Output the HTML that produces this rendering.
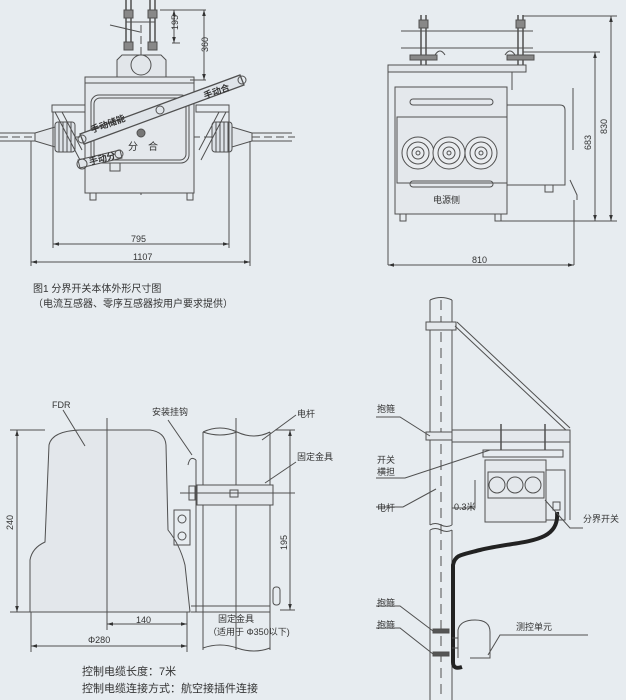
<!DOCTYPE html>
<html><head><meta charset="utf-8"><style>
html,body{margin:0;padding:0;background:#e7ecf0;}
svg{display:block;}
text{font-family:"Liberation Sans","Noto Sans CJK SC",sans-serif;fill:#333;}
</style></head><body>
<svg width="626" height="700" viewBox="0 0 626 700" xmlns="http://www.w3.org/2000/svg">
<rect width="626" height="700" fill="#e7ecf0"/>
<defs>
<marker id="a" viewBox="0 0 10 10" refX="10" refY="5" markerWidth="6" markerHeight="6" orient="auto-start-reverse"><path d="M0,2 L10,5 L0,8 Z" fill="#333"/></marker>
</defs>
<g stroke="#505050" stroke-width="1" fill="none">
<path d="M0,133 H35 M0,141 H35 M252,133 H292 M252,141 H292"/>
<line x1="0" y1="137" x2="295" y2="137" stroke-dasharray="8,4"/>
<line x1="141" y1="25" x2="141" y2="195" stroke-dasharray="8,3"/>
<path d="M35,133 L55,127 V147 L35,141 Z" fill="#e2e6ea"/>
<path d="M252,133 L232,127 V147 L252,141 Z" fill="#e2e6ea"/>
<rect x="55" y="122" width="20" height="30" rx="3" fill="#dde2e7"/>
<rect x="212" y="122" width="20" height="30" rx="3" fill="#dde2e7"/>
<path d="M59,122 V152 M63,122 V152 M67,122 V152 M71,122 V152 M216,122 V152 M220,122 V152 M224,122 V152 M228,122 V152"/>
<path d="M52,105 H85 V112 H52 Z M55,112 L80,160 M62,112 L82,150"/>
<path d="M229,105 H196 V112 H229 Z M226,112 L201,160 M219,112 L199,150"/>
<path d="M126,0 V50 M131,0 V50 M150,0 V50 M155,0 V50" stroke-width="1.5"/>
<rect x="124" y="10" width="9" height="8" fill="#888"/>
<rect x="148" y="10" width="9" height="8" fill="#888"/>
<rect x="124" y="42" width="9" height="8" fill="#888"/>
<rect x="148" y="42" width="9" height="8" fill="#888"/>
<path d="M126,22 H155 M110,25 L140,32"/>
<path d="M117,78 V60 L122,55 H161 L166,60 V78 Z" fill="#e2e6ea"/>
<circle cx="141" cy="65" r="10"/>
<rect x="85" y="77" width="109" height="116" fill="#e4e8ec"/>
<rect x="85" y="77" width="109" height="6"/>
<rect x="91" y="95" width="98" height="68" rx="8"/>
<rect x="94" y="98" width="92" height="62" rx="6"/>
<rect x="110" y="163" width="10" height="8"/>
<rect x="90" y="193" width="6" height="7"/>
<rect x="187" y="193" width="6" height="7"/>
<path d="M80,134 L240,75 L244,85 L84,144 Z" fill="#dfe4e9" stroke-width="1.3"/>
<circle cx="242" cy="80" r="4"/><circle cx="82" cy="139" r="4"/>
<circle cx="160" cy="110" r="4"/>
<path d="M78,160 L120,150 L122,158 L80,168 Z" fill="#dfe4e9"/>
<circle cx="82" cy="164" r="5"/><circle cx="119" cy="154" r="4"/>
<circle cx="141" cy="133" r="4" fill="#777"/>
<path d="M160,10 H206 M172,43 H180 M190,80 H206"/>
<line x1="174" y1="10" x2="174" y2="43" marker-start="url(#a)" marker-end="url(#a)"/>
<line x1="204" y1="10" x2="204" y2="80" marker-start="url(#a)" marker-end="url(#a)"/>
<path d="M53,112 V248 M229,112 V248 M31,141 V266 M250,141 V266"/>
<line x1="53" y1="244" x2="229" y2="244" marker-start="url(#a)" marker-end="url(#a)"/>
<line x1="31" y1="262" x2="250" y2="262" marker-start="url(#a)" marker-end="url(#a)"/>

<path d="M401,31 H533 M401,48 H533"/>
<path d="M421,15 V65 M426,15 V65 M518,15 V65 M523,15 V65" stroke-width="1.5"/>
<rect x="419" y="20" width="9" height="8" fill="#888"/>
<rect x="516" y="20" width="9" height="8" fill="#888"/>
<rect x="410" y="55" width="27" height="5" fill="#888"/>
<rect x="507" y="55" width="27" height="5" fill="#888"/>
<path d="M435,55 q5,-8 10,0 M505,55 q5,-8 10,0"/>
<rect x="388" y="65" width="138" height="7" fill="#e2e6ea"/>
<path d="M388,72 V265 M512,72 V90"/>
<rect x="395" y="87" width="112" height="127" fill="#e4e8ec"/>
<rect x="410" y="99" width="83" height="6" rx="3"/>
<rect x="410" y="181" width="83" height="6" rx="3"/>
<rect x="397" y="117" width="110" height="66"/>
<g fill="#e9ecef">
<circle cx="418" cy="153" r="16"/><circle cx="418" cy="153" r="11"/><circle cx="418" cy="153" r="6"/><circle cx="418" cy="153" r="2"/>
<circle cx="449" cy="153" r="16"/><circle cx="449" cy="153" r="11"/><circle cx="449" cy="153" r="6"/><circle cx="449" cy="153" r="2"/>
<circle cx="481" cy="153" r="16"/><circle cx="481" cy="153" r="11"/><circle cx="481" cy="153" r="6"/><circle cx="481" cy="153" r="2"/>
</g>
<path d="M507,105 H560 Q565,105 565,110 V185 H507"/>
<rect x="545" y="185" width="8" height="7"/>
<rect x="400" y="214" width="6" height="7"/><rect x="495" y="214" width="6" height="7"/>
<path d="M573,88 V150 M570,180 L577,195 V200 M574,200 V265"/>
<path d="M523,16 H617 M523,52 H600 M498,221 H617"/>
<line x1="611" y1="16" x2="611" y2="221" marker-start="url(#a)" marker-end="url(#a)"/>
<line x1="595" y1="52" x2="595" y2="221" marker-start="url(#a)" marker-end="url(#a)"/>
<line x1="388" y1="265" x2="574" y2="265" marker-start="url(#a)" marker-end="url(#a)"/>

<path d="M30,612 V560 Q32,548 45,542 L49,445 Q52,431 80,430 H150 Q165,432 166,445 L168,530 Q180,545 185,565 L190,612 Z" fill="#e3e7eb"/>
<line x1="107" y1="418" x2="107" y2="630"/>
<line x1="236" y1="418" x2="236" y2="650"/>
<path d="M203,432 V650 M270,432 V650"/>
<path d="M203,432 q17,-8 34,0 t33,0 M203,432 q17,6 34,0"/>
<path d="M203,648 q17,-6 34,0 t33,0"/>
<rect x="197" y="485" width="76" height="20" fill="#e4e8ec"/>
<path d="M180,493 H295"/>
<rect x="189" y="486" width="6" height="14"/>
<rect x="230" y="490" width="8" height="7"/>
<path d="M196,460 V612 H208 M191,606 H270 M191,612 H270"/>
<path d="M196,460 q-6,-5 -8,5"/>
<path d="M174,510 H190 V545 H174 Z"/>
<circle cx="182" cy="519" r="4"/><circle cx="182" cy="536" r="4"/>
<rect x="273" y="587" width="7" height="18" rx="3"/>
<path d="M10,430 H45 M10,612 H30"/>
<line x1="17" y1="430" x2="17" y2="612" marker-start="url(#a)" marker-end="url(#a)"/>
<path d="M275,430 H295 M280,610 H295"/>
<line x1="290" y1="430" x2="290" y2="610" marker-start="url(#a)" marker-end="url(#a)"/>
<path d="M187,612 V652 M31,612 V652"/>
<line x1="107" y1="624" x2="187" y2="624" marker-start="url(#a)" marker-end="url(#a)"/>
<line x1="31" y1="646" x2="187" y2="646" marker-start="url(#a)" marker-end="url(#a)"/>
<path d="M63,410 L85,446 M168,420 L192,455 M296,415 L262,440 M296,462 L265,483"/>

<path d="M430,300 V525 M452,300 V525 M430,530 V700 M452,530 V700"/>
<path d="M430,300 q11,-5 22,0 M430,525 q5,-3 11,0 t11,0 M430,530 q5,-3 11,0 t11,0"/>
<line x1="441" y1="300" x2="441" y2="700" stroke-dasharray="10,6"/>
<rect x="426" y="322" width="30" height="8" fill="#e4e8ec"/>
<path d="M455,326 L568,432 M457,322 L570,428"/>
<rect x="426" y="432" width="30" height="8" fill="#e4e8ec"/>
<rect x="452" y="430" width="118" height="12" fill="#e4e8ec"/>
<path d="M570,442 V520"/>
<path d="M501,424 V450 M545,424 V450" stroke-width="1.5"/>
<rect x="483" y="450" width="80" height="7"/>
<rect x="485" y="460" width="61" height="62" fill="#e4e8ec"/>
<rect x="488" y="472" width="56" height="26"/>
<g><circle cx="497" cy="485" r="8"/><circle cx="515" cy="485" r="8"/><circle cx="533" cy="485" r="8"/></g>
<path d="M546,470 H565 V520 H546"/>
<rect x="553" y="502" width="7" height="8"/>
<path d="M557,512 C560,545 520,540 480,550 C460,555 455,555 453,565 V662 Q453,670 462,667" stroke="#222" stroke-width="4"/>
<path d="M458,658 V630 Q460,620 475,620 Q490,620 490,632 V658 H470"/>
<path d="M452,638 H458 M452,648 H458"/>
<rect x="433" y="629" width="16" height="4" fill="#555"/>
<rect x="433" y="652" width="16" height="4" fill="#555"/>
<path d="M452,508 H475 V480"/>
<path d="M376,417 H400 L430,436 M376,478 H405 L490,450 M376,507 H403 L436,489 M583,528 H570 L545,500 M376,606 H400 L433,631 M376,628 H400 L433,654 M588,635 H500 L488,655"/>
</g>
<g font-size="10">
<g font-weight="bold" font-size="9">
<text x="92" y="133" transform="rotate(-20 92 133)">手动储能</text>
<text x="205" y="99" transform="rotate(-20 205 99)">手动合</text>
<text x="90" y="165" transform="rotate(-15 90 165)">手动分</text>
</g>
<text x="128" y="150">分</text><text x="148" y="150">合</text>
<text x="178" y="30" font-size="9" transform="rotate(-90 178 30)">195</text>
<text x="208" y="52" font-size="9" transform="rotate(-90 208 52)">360</text>
<text x="131" y="242" font-size="9">795</text>
<text x="133" y="260" font-size="9">1107</text>
<text x="33" y="292" font-size="10">图1  分界开关本体外形尺寸图</text>
<text x="33" y="307" font-size="10">（电流互感器、零序互感器按用户要求提供）</text>
<text x="433" y="203" font-size="9">电源侧</text>
<text x="607" y="134" font-size="9" transform="rotate(-90 607 134)">830</text>
<text x="591" y="150" font-size="9" transform="rotate(-90 591 150)">683</text>
<text x="472" y="263" font-size="9">810</text>
<text x="52" y="408" font-size="9">FDR</text>
<text x="152" y="415" font-size="9">安装挂钩</text>
<text x="297" y="417" font-size="9">电杆</text>
<text x="297" y="460" font-size="9">固定金具</text>
<text x="13" y="530" font-size="9" transform="rotate(-90 13 530)">240</text>
<text x="287" y="550" font-size="9" transform="rotate(-90 287 550)">195</text>
<text x="136" y="623" font-size="9">140</text>
<text x="88" y="643" font-size="9">Φ280</text>
<text x="218" y="622" font-size="9">固定金具</text>
<text x="208" y="635" font-size="9">（适用于 Φ350以下)</text>
<text x="82" y="675" font-size="11">控制电缆长度：7米</text>
<text x="82" y="692" font-size="11">控制电缆连接方式：航空接插件连接</text>
<text x="377" y="412" font-size="9">抱箍</text>
<text x="377" y="463" font-size="9">开关</text>
<text x="377" y="475" font-size="9">横担</text>
<text x="377" y="511" font-size="9">电杆</text>
<text x="454" y="510" font-size="9">0.3米</text>
<text x="583" y="522" font-size="9">分界开关</text>
<text x="377" y="606" font-size="9">抱箍</text>
<text x="377" y="628" font-size="9">抱箍</text>
<text x="516" y="630" font-size="9">测控单元</text>
</g>
</svg>
</body></html>
